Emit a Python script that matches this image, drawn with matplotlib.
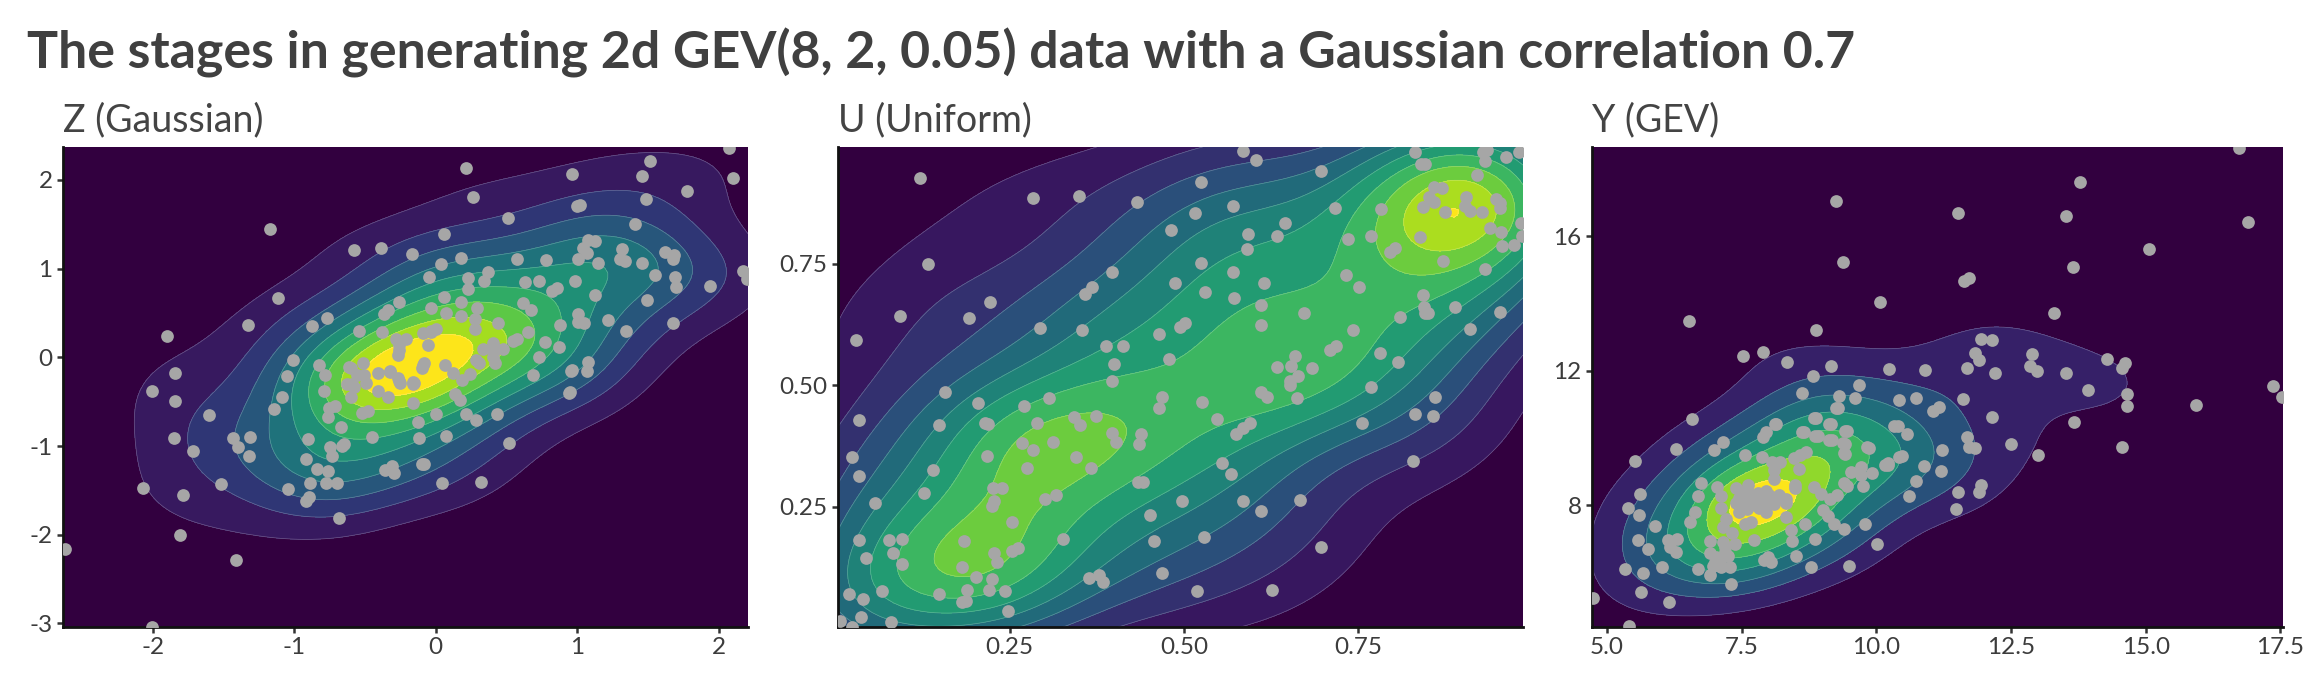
#!/usr/bin/env python3
# -*- coding: utf-8 -*-
import numpy as np
import matplotlib
matplotlib.use('Agg')
import matplotlib.pyplot as plt

plt.rcParams['font.family'] = ['Lato', 'DejaVu Sans']

# -------------------------------------------------------------
# ------------------  Data  ----------------
# -------------------------------------------------------------
title_text = 'The stages in generating 2d GEV(8, 2, 0.05) data with a Gaussian correlation 0.7'

z_points = np.array([
    (-1.84, -.18), (-2.007, -.38), (-1.84, -.49), (-1.602, -.654), (-1.85, -.91), (-1.717, -1.06),
    (-2.068, -1.474), (-1.783, -1.556), (-1.515, -1.428), (-1.809, -2.007), (-2.62, -2.16),
    (-1.411, -2.285), (-2.005, -3.04), (-.683, -1.815), (-1.011, -.034), (-1.051, -.207),
    (-1.084, -.451), (-1.145, -.587), (-1.43, -.906), (-1.312, -.902), (-1.397, -1.015),
    (-1.317, -1.117), (-.905, -.917), (-.916, -1.147), (-.841, -1.263), (-.759, -1.278),
    (-.888, -1.421), (-.778, -1.417), (-.7, -1.421), (-1.046, -1.481), (-.898, -1.571),
    (-.916, -1.616), (-.827, -.087), (-.784, -.2), (-.787, -.376), (-.712, -.545), (-.752, -.575),
    (-.763, -.669), (-.669, -.782), (-.747, -1.015), (-.733, -1.109), (-.646, -.981), (-.664, -1.0),
    (-.45, -.899), (-.615, -.106), (-.511, -.068), (-.558, -.196), (-.624, -.297), (-.577, -.331),
    (-.495, -.294), (-.598, -.444), (-.405, -.173), (-.323, -.162), (-.264, -.237), (-.252, -.294),
    (-.405, -.38), (-.339, -.444), (-.523, -.624), (-.476, -.602), (-.158, -.275), (-.163, -.519),
    (-.127, -.726), (-.116, -.914), (-.358, -1.27), (-.311, -1.226), (-.295, -1.308), (-.099, -1.203),
    (-.045, .909), (.231, .89), (.367, .965), (.341, .864), (.228, .77), (.629, .845), (.73, .864),
    (.82, .751), (.855, .781), (.061, .683), (.176, .62), (.292, .559), (-.262, .62), (-.335, .533),
    (-.365, .488), (-.033, .552), (.075, .503), (.179, .465), (.28, .428), (.443, .386), (.619, .608),
    (.676, .533), (.876, .36), (.65, .289), (.28, .315), (.002, .315), (-.03, .285), (-.09, .27),
    (-.542, .3), (-.377, .285), (-.283, .202), (-.212, .206), (-.257, .138), (-.264, .026),
    (-.054, .138), (.572, .206), (.544, .184), (.775, .169), (.869, .12), (.732, .0), (.956, -.155),
    (.69, -.2), (.94, -.399), (.516, -.966), (.07, -.888), (.337, .093), (.407, .165), (.396, .082),
    (.473, .09), (.426, .09), (.419, -.068), (.407, .0), (.282, -.031), (.306, -.061), (-.08, -.061),
    (-.094, -.117), (.063, -.087), (.12, -.177), (.242, -.189), (.186, -.256), (-.158, -.305),
    (-.323, -.155), (.136, -.414), (.172, -.482), (0.0, -.636), (.212, -.636), (.282, -.707),
    (.431, -.636), (.214, 2.129), (.963, 2.064), (1.515, 2.213), (1.456, 2.044), (2.075, 2.358),
    (2.104, 2.02), (1.776, 1.875), (.261, 1.807), (.514, 1.566), (1.489, 1.779), (.996, 1.70),
    (1.02, 1.714), (1.409, 1.501), (.061, 1.385), (-.17, 1.16), (1.079, 1.324), (1.126, 1.312),
    (1.039, 1.232), (1.067, 1.171), (1.004, 1.111), (1.314, 1.22), (1.303, 1.111), (1.338, 1.083),
    (1.147, 1.067), (1.458, 1.067), (1.621, 1.184), (1.684, 1.151), (1.68, 1.111), (1.548, .93),
    (1.694, .902), (1.696, .797), (1.939, .805), (2.174, .97), (2.2, .882), (.572, 1.103), (.78, 1.091),
    (.177, 1.123), (.04, 1.047), (.982, .862), (1.126, .697), (1.006, .488), (1.008, .395), (1.048, .383),
    (1.22, .419), (1.343, .291), (1.491, .64), (1.68, .387), (1.079, -.055), (.961, -.148), (1.067, -.156),
    (.949, -.393), (.32, -1.403), (.047, -1.415), (-.08, -1.2), (-1.173, 1.446), (-.575, 1.206),
    (-.389, 1.228), (-1.117, .672), (-1.329, .364), (-1.901, .236), (-.872, .353), (-.768, .447),
    # partly hidden under the overlapping dots of the core
    (-.26, -.27), (-.156, -.29), (-.087, -.09), (-.59, -.3), (-.6, -.12), (-.51, -.2), (-.03, .3), (-.26, .08),
])

u_points = np.array([
    (.157, .487), (.205, .464), (.27, .457), (.306, .473), (.034, .429), (.148, .419), (.215, .422),
    (.219, .42), (.289, .422), (.342, .434), (.351, .418), (.374, .436), (.396, .402), (.403, .383),
    (.438, .399), (.436, .38), (.468, .475), (.464, .454), (.267, .382), (.283, .367), (.312, .384),
    (.345, .352), (.023, .352), (.217, .354), (.275, .329), (.367, .329), (.034, .313), (.14, .326),
    (.127, .278), (.056, .257), (.226, .288), (.239, .289), (.228, .262), (.224, .251), (.3, .266),
    (.317, .273), (.434, .30), (.441, .301), (.497, .262), (.451, .232), (.253, .218), (.184, .18),
    (.327, .184), (.457, .179), (.033, .182), (.077, .182), (.096, .183), (.082, .155), (.044, .145),
    (.095, .132), (.228, .154), (.232, .135), (.253, .159), (.262, .164), (.181, .126), (.201, .104),
    (.225, .101), (.363, .102), (.378, .11), (.384, .095), (.468, .114), (.02, .07), (.039, .06),
    (.066, .077), (.149, .07), (.188, .078), (.22, .078), (.243, .077), (.182, .053), (.187, .056),
    (.248, .034), (.036, .022), (.08, .012), (.007, .015), (.023, .003),
    (.526, .466), (.547, .431), (.61, .486), (.619, .475), (.652, .5), (.662, .474), (.768, .497),
    (.594, .422), (.584, .411), (.574, .4), (.555, .339), (.568, .317), (.755, .422), (.831, .44),
    (.857, .437), (.86, .475), (.829, .345), (.585, .262), (.611, .24), (.667, .263), (.697, .167),
    (.528, .187), (.519, .077), (.626, .078),
    (.121, .927), (.283, .886), (.349, .891), (.433, .877), (.482, .819), (.132, .75), (.397, .733),
    (.368, .702), (.358, .688), (.487, .71), (.093, .642), (.222, .672), (.192, .638), (.029, .593),
    (.294, .619), (.353, .613), (.388, .581), (.413, .58), (.464, .605), (.494, .62), (.478, .555),
    (.4, .543), (.397, .509),
    (.585, .983), (.603, .964), (.525, .918), (.697, .942), (.832, .981), (.84, .956), (.846, .957),
    (.929, .981), (.935, .985), (.932, .962), (.962, .97), (.981, .98), (.92, .934), (.859, .908),
    (.87, .906), (.852, .889), (.859, .878), (.843, .867), (.874, .858), (.905, .889), (.903, .869),
    (.91, .86), (.928, .858), (.947, .883), (.954, .875), (.953, .866), (.57, .869), (.516, .854),
    (.717, .865), (.645, .835), (.592, .811), (.634, .808), (.591, .78), (.783, .863), (.768, .808),
    (.735, .802), (.838, .806), (.939, .825), (.955, .816), (.983, .834), (.985, .808), (.956, .788),
    (.974, .79), (.803, .783), (.795, .774), (.871, .756), (.932, .74), (.524, .753), (.57, .733),
    (.615, .711), (.53, .693), (.572, .679), (.61, .666), (.732, .727), (.751, .703), (.843, .686),
    (.844, .661), (.85, .648), (.846, .648), (.889, .662), (.953, .651), (.81, .641), (.911, .615),
    (.672, .65), (.611, .624), (.502, .629), (.742, .613), (.718, .58), (.709, .572), (.659, .56),
    (.653, .54), (.633, .538), (.683, .536), (.781, .567), (.807, .548), (.664, .52), (.652, .509),
])

y_points = np.array([
    (6.583, 10.565), (6.274, 9.663), (5.519, 9.325), (7.153, 9.881), (6.98, 9.633), (7.555, 9.494),
    (7.877, 9.445), (8.112, 10.417), (7.958, 10.169), (7.902, 10.02), (8.837, 10.605), (9.245, 10.883),
    (9.115, 10.407), (8.614, 10.188), (8.868, 10.05), (9.128, 9.94), (9.412, 10.208), (9.381, 9.861),
    (9.394, 9.544), (9.821, 9.722), (10.322, 10.357), (10.421, 9.444), (10.155, 9.196), (10.217, 9.266),
    (9.722, 9.147), (9.536, 8.978), (9.92, 8.948), (9.753, 8.571), (9.722, 8.899), (8.688, 9.573),
    (8.577, 9.494), (8.471, 9.415), (8.558, 9.077), (8.205, 9.276), (8.063, 9.276), (8.094, 9.048),
    (8.106, 8.78), (9.4, 8.651), (9.456, 8.581), (8.484, 8.601), (8.496, 8.502), (8.837, 8.532),
    (8.967, 8.333), (9.134, 8.175), (9.27, 8.304), (6.75, 8.671), (6.682, 8.274), (7.048, 8.532),
    (7.122, 8.284), (7.401, 8.502), (7.617, 8.591), (7.524, 8.403), (7.803, 8.373), (7.958, 8.433),
    (7.865, 8.274), (8.112, 8.175), (8.329, 8.175), (8.329, 8.056), (7.401, 8.056), (7.524, 8.125),
    (7.679, 8.105), (7.11, 7.927), (7.45, 7.788), (7.821, 7.907), (7.945, 7.788), (9.01, 7.857),
    (9.103, 7.689), (8.329, 7.659), (9.208, 7.431), (9.394, 7.302), (9.79, 7.431), (8.682, 7.431),
    (8.41, 7.262), (8.441, 6.935), (8.855, 6.984), (7.555, 7.44), (7.679, 7.51), (7.215, 7.579),
    (7.153, 7.361), (7.326, 7.163), (7.729, 6.964), (6.918, 6.935), (7.37, 6.835), (7.184, 6.766),
    (6.905, 6.567), (8.502, 6.488), (7.999, 6.468), (7.908, 6.369), (8.05, 6.3), (8.793, 6.171),
    (9.487, 6.19), (10.019, 6.855), (7.06, 6.369), (6.967, 6.2), (7.122, 6.171), (7.277, 6.151),
    (7.029, 6.468), (6.918, 5.923), (6.695, 6.091), (7.301, 5.655), (6.014, 6.161), (5.667, 5.992),
    (5.327, 6.101), (5.636, 5.427), (6.15, 5.109), (6.132, 6.964), (6.299, 6.984), (6.163, 6.766),
    (6.286, 6.597), (6.534, 7.51), (6.639, 7.788), (5.896, 7.391), (5.581, 6.954), (5.754, 6.706),
    (5.599, 7.698), (5.395, 7.917), (5.605, 8.333),
    (9.249, 17.066), (11.525, 16.696), (13.517, 16.595), (13.774, 17.627), (16.726, 18.638),
    (16.904, 16.438), (15.055, 15.618), (9.383, 15.226), (13.659, 15.091), (11.721, 14.765),
    (11.632, 14.676), (10.076, 14.036), (13.294, 13.733), (6.52, 13.475), (8.876, 13.205),
    (11.943, 12.936), (12.139, 12.902), (7.525, 12.453), (7.889, 12.554), (8.343, 12.274),
    (9.161, 12.128), (10.245, 12.049), (10.903, 12.016), (11.685, 12.083), (11.827, 12.532),
    (11.916, 12.319), (12.21, 11.926), (12.894, 12.51), (12.859, 12.128), (12.992, 11.993),
    (13.517, 11.926), (14.281, 12.364), (14.61, 12.229), (14.566, 12.094), (13.926, 11.421),
    (14.645, 11.309), (14.655, 10.961), (15.935, 10.994), (17.357, 11.556), (17.535, 11.219),
    (13.668, 10.467), (8.832, 11.847), (9.676, 11.578), (8.627, 11.353), (9.303, 11.241),
    (9.596, 11.185), (10.423, 11.129), (10.734, 11.185), (11.614, 11.163), (11.054, 10.804),
    (11.161, 10.916), (9.294, 10.882), (8.885, 10.59), (9.161, 10.411), (8.147, 10.411),
    (12.139, 10.635), (10.396, 10.355), (10.565, 10.13), (9.454, 10.209), (8.654, 10.186),
    (8.92, 10.052), (9.169, 9.939), (11.676, 10.018), (11.721, 9.737), (11.836, 9.715), (12.494, 9.816),
    (13.01, 9.479), (14.566, 9.737), (11.214, 9.648), (10.476, 9.457), (9.427, 9.827), (9.427, 9.535),
    (9.872, 9.715), (10.218, 9.199), (10.885, 9.154), (11.196, 9.019), (10.743, 8.727), (10.609, 8.278),
    (11.943, 8.593), (11.907, 8.391), (11.516, 8.391), (11.481, 7.886), (4.742, 5.248), (5.409, 4.406),
    # partly hidden under the overlapping dots of the core
    (7.5, 8.3), (7.6, 8.2), (7.7, 8.3), (7.75, 8.0), (7.9, 8.15), (8.0, 8.3), (8.1, 8.05), (8.2, 8.3),
    (7.6, 7.9), (7.45, 8.2), (7.5, 7.95), (7.95, 8.1), (7.1, 6.3), (7.2, 6.6), (7.0, 6.3), (7.25, 6.5),
    (7.15, 6.9),
])

panel_titles = ['Z (Gaussian)', 'U (Uniform)', 'Y (GEV)']

z_xlim, z_ylim = (-2.634, 2.207), (-3.04, 2.37)
u_xlim, u_ylim = (.0035, .9864), (.002, .991)
y_xlim, y_ylim = (4.723, 17.55), (4.375, 18.66)

z_xticks, z_xlabels = [-2, -1, 0, 1, 2], ['-2', '-1', '0', '1', '2']
z_yticks, z_ylabels = [-3, -2, -1, 0, 1, 2], ['-3', '-2', '-1', '0', '1', '2']
u_xticks, u_xlabels = [.25, .5, .75], ['0.25', '0.50', '0.75']
u_yticks, u_ylabels = [.25, .5, .75], ['0.25', '0.50', '0.75']
y_xticks, y_xlabels = [5, 7.5, 10, 12.5, 15, 17.5], ['5.0', '7.5', '10.0', '12.5', '15.0', '17.5']
y_yticks, y_ylabels = [8, 12, 16], ['8', '12', '16']

z_colors = ['#32003f', '#37195f', '#2f3675', '#27567b', '#1f727b', '#1f8f76',
            '#30ab65', '#5cc846', '#a4dd1f', '#fde51a']
u_colors = ['#32003f', '#37175f', '#33306f', '#2a4f7a', '#216a7a', '#1f8278',
            '#229b72', '#3cb661', '#6ccc3e', '#abdd1f', '#fde51a']
y_colors = ['#32003f', '#362068', '#28507a', '#206d7b', '#1f9276', '#3bb560',
            '#90d82c', '#fde51a']

# width of one density band, as a share of the peak density
z_band = 1 / 10.0
u_band = 1 / 10.02
y_band = 1 / 7.6

# smoothing on top of the normal reference rule, per panel
z_bw = 1.15
u_bw = 1.0
y_bw = 1.22


# -------------------------------------------------------------
# ------------------  2d density  -----------------------------
# -------------------------------------------------------------
def bandwidth(v, adjust):
    q75, q25 = np.percentile(v, [75, 25])
    return adjust * 1.06 * min(np.std(v, ddof=1), (q75 - q25) / 1.34) * len(v) ** -0.2


def density(pts, xlim, ylim, adjust, n=100):
    gx = np.linspace(xlim[0], xlim[1], n)
    gy = np.linspace(ylim[0], ylim[1], n)
    hx, hy = bandwidth(pts[:, 0], adjust), bandwidth(pts[:, 1], adjust)
    kx = np.exp(-0.5 * ((gx[:, None] - pts[:, 0]) / hx) ** 2) / (hx * np.sqrt(2 * np.pi))
    ky = np.exp(-0.5 * ((gy[:, None] - pts[:, 1]) / hy) ** 2) / (hy * np.sqrt(2 * np.pi))
    return gx, gy, ky @ kx.T / len(pts)


def panel(ax, pts, xlim, ylim, colors, band, adjust, xticks, xlabels, yticks, ylabels, title):
    gx, gy, dens = density(pts, xlim, ylim, adjust)
    step = dens.max() * band
    levels = [step * i for i in range(len(colors))] + [dens.max() * 1.01]
    ax.contourf(gx, gy, dens, levels=levels, colors=colors)
    ax.contour(gx, gy, dens, levels=levels[1:-1], colors='white', linewidths=0.5, alpha=0.28)
    ax.scatter(pts[:, 0], pts[:, 1], s=84, color='#a6a6a6', linewidths=0, zorder=3)
    ax.set_xlim(xlim)
    ax.set_ylim(ylim)
    ax.set_xticks(xticks)
    ax.set_xticklabels(xlabels)
    ax.set_yticks(yticks)
    ax.set_yticklabels(ylabels)
    ax.tick_params(length=4.5, width=1.8, color='#333333', labelcolor='#3c3c3c', labelsize=17.5, pad=3)
    for side in ['top', 'right']:
        ax.spines[side].set_visible(False)
    for side in ['left', 'bottom']:
        ax.spines[side].set_linewidth(2)
        ax.spines[side].set_color('#111111')
    ax.set_title(title, loc='left', fontsize=27, color='#444444', pad=11)


W, H = 2304, 691
fig = plt.figure(figsize=(W / 100, H / 100), dpi=100)
top, bottom = 147, 627


def add_axes(left, right):
    return fig.add_axes([left / W, 1 - bottom / H, (right - left) / W, (bottom - top) / H])


panel(add_axes(63, 748), z_points, z_xlim, z_ylim, z_colors, z_band, z_bw,
      z_xticks, z_xlabels, z_yticks, z_ylabels, panel_titles[0])
panel(add_axes(838, 1523), u_points, u_xlim, u_ylim, u_colors, u_band, u_bw,
      u_xticks, u_xlabels, u_yticks, u_ylabels, panel_titles[1])
panel(add_axes(1592, 2283), y_points, y_xlim, y_ylim, y_colors, y_band, y_bw,
      y_xticks, y_xlabels, y_yticks, y_ylabels, panel_titles[2])

fig.text(27 / W, 1 - 69 / H, title_text, fontsize=37.4, fontweight='bold', color='#404040')

fig.savefig('out.png', dpi=100)
